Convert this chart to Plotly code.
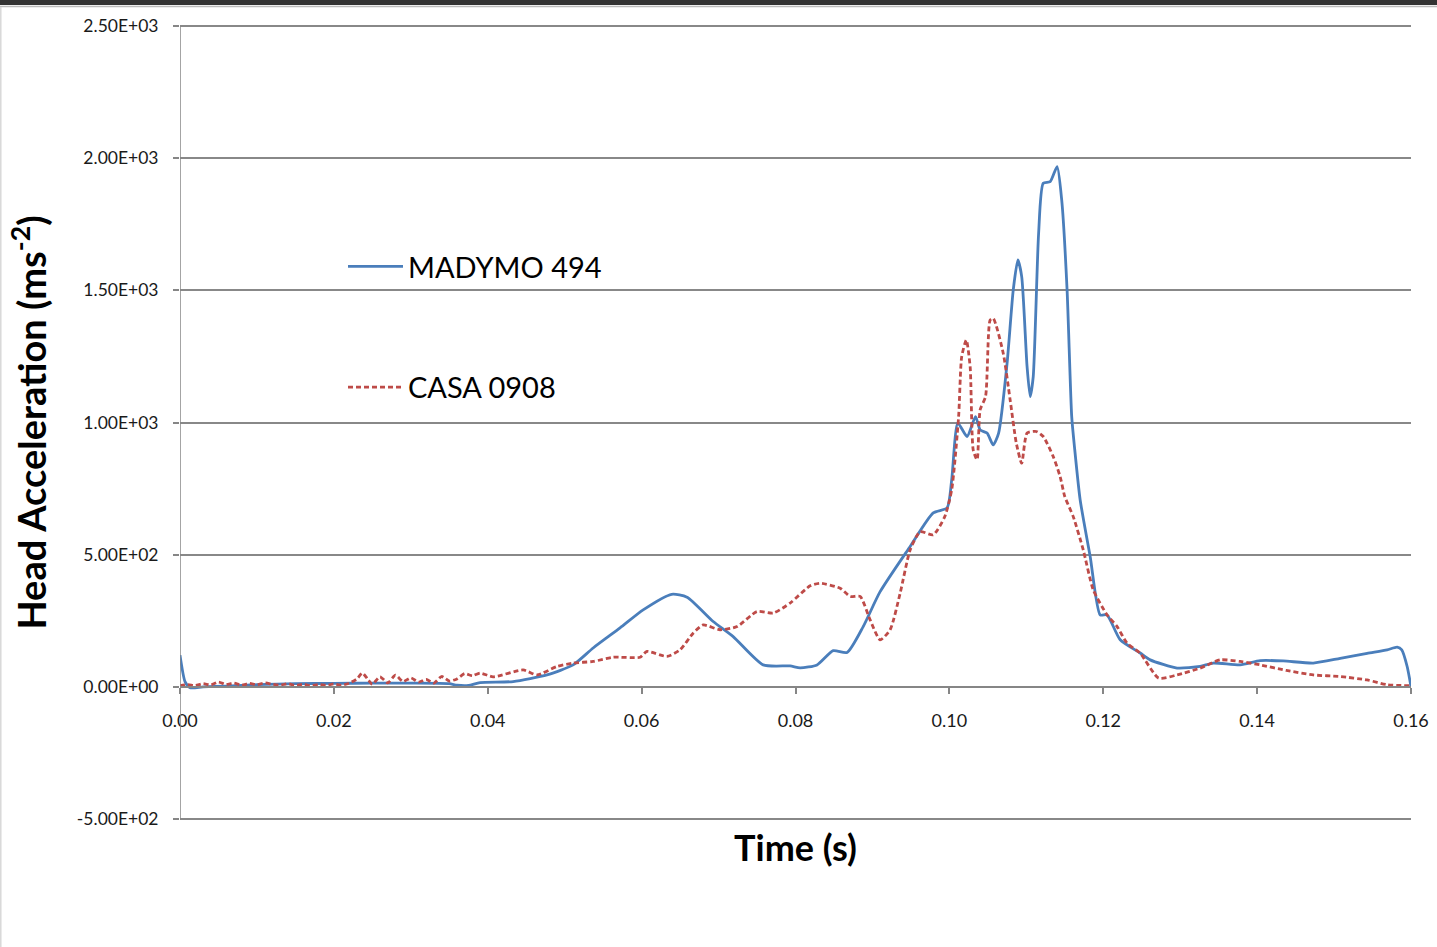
import plotly.graph_objects as go

# ---- data ----
madymo_t = [0.0, 0.00065, 0.0013, 0.003, 0.006, 0.010, 0.015, 0.020, 0.025, 0.030, 0.035, 0.036, 0.0375,
            0.039, 0.0433, 0.0477, 0.0511, 0.0537, 0.0572, 0.0602, 0.0639, 0.0659, 0.0693, 0.0719, 0.0758,
            0.0793, 0.0806, 0.0828, 0.0849, 0.0867, 0.0888, 0.091, 0.0949, 0.0979, 0.0997, 0.1003, 0.1011,
            0.1023, 0.1034, 0.104, 0.1049, 0.1057, 0.1064, 0.1075, 0.1083, 0.1089, 0.1094, 0.1101, 0.1105,
            0.1109, 0.1116, 0.1122, 0.1131, 0.114, 0.1146, 0.1153, 0.1159, 0.1163, 0.117, 0.1183, 0.1196,
            0.1205, 0.1222, 0.1248, 0.1261, 0.1296, 0.1326, 0.1343, 0.1378, 0.1404, 0.1434, 0.1473, 0.1508,
            0.1543, 0.1569, 0.1582, 0.1588, 0.1595, 0.16]
madymo_a = [120, 20, -3, 0, 3, 8, 12, 13, 14, 14, 12, 6, 5,
            16, 20, 45, 83, 147, 223, 291, 350, 339, 247, 190, 83,
            79, 72, 83, 137, 130, 228, 360, 531, 658, 677, 783, 998,
            947, 1022, 972, 960, 915, 960, 1224, 1501, 1615, 1552, 1211, 1098,
            1174, 1716, 1905, 1911, 1968, 1842, 1501, 1022, 896, 707, 493, 272,
            272, 178, 128, 102, 71, 77, 90, 83, 99, 98, 90, 108,
            127, 140, 150, 140, 77, 0]

casa_t = [0.000, 0.001, 0.002, 0.003, 0.004, 0.005, 0.006, 0.007, 0.008, 0.009, 0.010, 0.011, 0.012,
          0.013, 0.014, 0.015, 0.016, 0.017, 0.018, 0.019, 0.020, 0.021, 0.022, 0.023, 0.0237, 0.0245,
          0.025, 0.026, 0.027, 0.028, 0.029, 0.030, 0.031, 0.032, 0.033, 0.034, 0.035, 0.036, 0.037,
          0.038, 0.039, 0.0407, 0.0446, 0.0464, 0.049, 0.0511, 0.0537, 0.0563, 0.0598, 0.0607, 0.0633,
          0.065, 0.0667, 0.068, 0.0702, 0.0724, 0.075, 0.0771, 0.0793, 0.0819, 0.0832, 0.0858, 0.0871,
          0.0884, 0.0897, 0.091, 0.0923, 0.0936, 0.0949, 0.0962, 0.0979, 0.0994, 0.1003, 0.1012, 0.1016,
          0.1022, 0.1027, 0.1031, 0.1036, 0.104, 0.1047, 0.1053, 0.1057, 0.107, 0.1079, 0.1087, 0.1094,
          0.1101, 0.1113, 0.1122, 0.1135, 0.1144, 0.115, 0.1161, 0.1174, 0.1187, 0.1205, 0.1218, 0.1231,
          0.1248, 0.1272, 0.1296, 0.1326, 0.1352, 0.1378, 0.1404, 0.1438, 0.1473, 0.1508, 0.1543, 0.1569,
          0.16]
casa_a = [4, 8, 5, 12, 7, 18, 9, 14, 6, 13, 8, 15, 10,
          6, 12, 5, 10, 4, 9, 5, 11, 6, 14, 30, 52, 25,
          10, 38, 15, 44, 20, 34, 18, 28, 14, 39, 22, 30, 50,
          42, 52, 38, 64, 45, 77, 90, 96, 112, 112, 134, 115,
          140, 203, 234, 216, 228, 285, 279, 317, 382, 392, 373, 342,
          342, 253, 178, 216, 354, 518, 587, 575, 644, 745, 1022, 1249,
          1312, 1211, 896, 859, 1048, 1098, 1388, 1394, 1262, 1085, 922, 846,
          960, 966, 947, 871, 795, 720, 644, 518, 367, 272, 228, 165,
          127, 33, 45, 71, 102, 96, 83, 62, 45, 39, 26, 8,
          4]

x_ticks = [0.0, 0.02, 0.04, 0.06, 0.08, 0.10, 0.12, 0.14, 0.16]
x_tick_labels = ["0.00", "0.02", "0.04", "0.06", "0.08", "0.10", "0.12", "0.14", "0.16"]
y_ticks = [-500, 0, 500, 1000, 1500, 2000, 2500]
y_tick_labels = ["-5.00E+02", "0.00E+00", "5.00E+02", "1.00E+03", "1.50E+03", "2.00E+03", "2.50E+03"]

# ---- layout constants ----
W, H = 1437, 947
PAD = 2  # px of padding so the outer gridlines (2500 / -500) are drawn
ML, MR, MT, MB = 180, 26, 26 - PAD, 128 - PAD
PW, PH = W - ML - MR, H - MT - MB
FONT = "Lato"
_units_per_px = 3000.0 / (PH - 2 * PAD)
Y_RANGE = [-500 - PAD * _units_per_px, 2500 + PAD * _units_per_px]

fig = go.Figure()
fig.add_trace(go.Scatter(x=madymo_t, y=madymo_a, mode="lines", name="MADYMO 494",
                         legendgroup="a",
                         line=dict(color="#4A7EBB", width=2.8, shape="spline", smoothing=0.6)))
fig.add_trace(go.Scatter(x=casa_t, y=casa_a, mode="lines", name="CASA 0908",
                         legendgroup="b",
                         line=dict(color="#BE4B48", width=2.8, dash="5px,3px",
                                   shape="spline", smoothing=0.6)))

y0_frac = (0 - Y_RANGE[0]) / (Y_RANGE[1] - Y_RANGE[0])

# page decoration: dark top bar and light left edge
top = 1 + MT / PH
fig.add_shape(type="rect", xref="paper", yref="paper",
              x0=-ML / PW, x1=1 + MR / PW, y0=top - 5 / PH, y1=top + 0.01,
              fillcolor="#333333", line=dict(width=0), layer="below")
fig.add_shape(type="line", xref="paper", yref="paper",
              x0=-ML / PW, x1=1 + MR / PW, y0=top - 6.5 / PH, y1=top - 6.5 / PH,
              line=dict(color="#BBBBBB", width=1.5), layer="below")
fig.add_shape(type="line", xref="paper", yref="paper",
              x0=-ML / PW + 0.8 / PW, x1=-ML / PW + 0.8 / PW, y0=-MB / PH, y1=top - 7 / PH,
              line=dict(color="#D8D8D8", width=1.5), layer="below")

fig.update_layout(
    width=W, height=H,
    margin=dict(l=ML, r=MR, t=MT, b=MB, autoexpand=False),
    paper_bgcolor="white", plot_bgcolor="white",
    font=dict(family=FONT, color="#000000"),
    showlegend=True,
    legend=dict(x=(343 - ML) / PW, y=1 - (241 - MT) / PH, xanchor="left", yanchor="top",
                bgcolor="rgba(0,0,0,0)", font=dict(family=FONT, size=29, color="#000000"),
                tracegroupgap=80, itemwidth=55),
    xaxis=dict(range=[0, 0.16], tickvals=x_ticks, ticktext=x_tick_labels,
               anchor="free", position=y0_frac,
               showline=True, linecolor="#868686", linewidth=1.5,
               ticks="outside", ticklen=6, tickcolor="#868686", tickwidth=1.5,
               showgrid=False, zeroline=False,
               tickfont=dict(family=FONT, size=18, color="#1a1a1a"),
               ticklabelstandoff=12,
               title=dict(text="<b>Time (s)</b>", font=dict(family=FONT, size=36, color="#000000"),
                          standoff=105),
               automargin=False),
    yaxis=dict(range=Y_RANGE, tickvals=y_ticks, ticktext=y_tick_labels,
               showline=False,
               ticks="outside", ticklen=6, tickcolor="#868686", tickwidth=1.5,
               showgrid=True, gridcolor="#888888", gridwidth=1.5, zeroline=False,
               tickfont=dict(family=FONT, size=17.5, color="#1a1a1a"),
               ticklabelstandoff=11,
               title=dict(text="<b>Head Acceleration (ms<sup>-2</sup>)</b>",
                          font=dict(family=FONT, size=38, color="#000000"), standoff=18),
               automargin=False),
)

# vertical y-axis line spanning exactly from -500 to 2500 (the tick extremes)
fig.add_shape(type="line", xref="x", yref="y", x0=0, x1=0,
              y0=min(y_ticks), y1=max(y_ticks),
              line=dict(color="#868686", width=1.5), layer="above")

fig.write_html("out.html")
